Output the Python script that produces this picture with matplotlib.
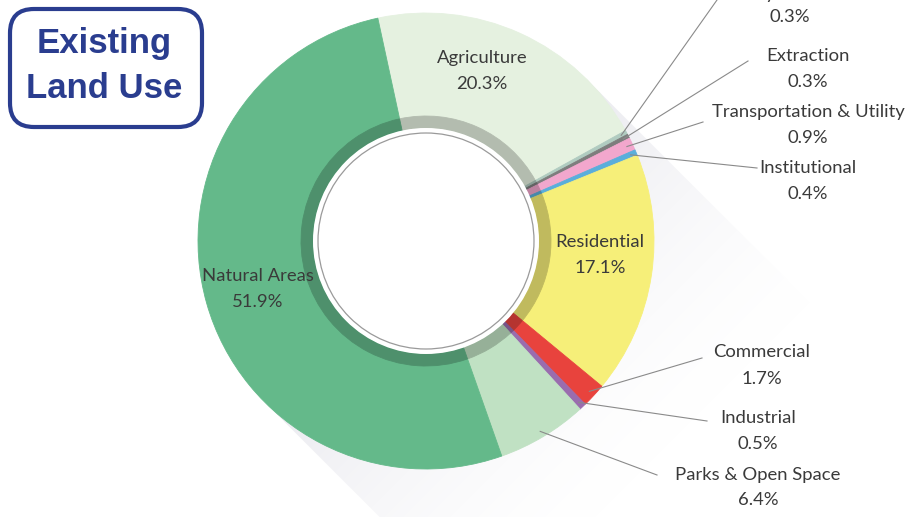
import numpy as np
import matplotlib.pyplot as plt
import matplotlib.colors as mcolors
from matplotlib.patches import Circle, FancyBboxPatch, Polygon

plt.rcParams['font.family'] = ['Lato', 'DejaVu Sans']

# -------------------------------------------------------
# Data (clockwise from the Natural Areas / Agriculture split)
# -------------------------------------------------------
categories = ["Agriculture", "Military Installation", "Extraction",
              "Transportation & Utility", "Institutional", "Residential",
              "Commercial", "Industrial", "Parks & Open Space", "Natural Areas"]
shares = [20.3, 0.3, 0.3, 0.9, 0.4, 17.1, 1.7, 0.5, 6.4, 51.9]
colors = ["#e5f1e0", "#b0cbc0", "#7d7d7d", "#f2a7cd", "#5aaedb",
          "#f6ef79", "#e8433d", "#9a6cae", "#c0e1c3", "#64b98a"]

# -------------------------------------------------------
# Layout (pixel coords, y measured from top)
# -------------------------------------------------------
W, H = 911, 517
def Y(y):
    return H - y

CX, CY = 426, Y(241)
R_OUT, R_BAND, R_IN, R_LINE = 228, 125, 113, 108
START = 102.2
TXT = "#3a3a3a"
FS = 13.3

# labels placed inside the ring: index -> (x, y_name, y_pct)
inside = {0: (482, 58, 84), 5: (600, 242, 268), 9: (258, 276, 302)}
# labels outside with leader lines: index -> (x, y_name, y_pct, line_end_x, line_end_y)
outside = {1: (790, -6, 17, 717, 0),
           2: (808, 56, 82, 748, 61),
           3: (808, 112, 138, 703, 122),
           4: (808, 168, 194, 757, 168),
           6: (762, 352, 379, 702, 358),
           7: (758, 418, 444, 707, 421),
           8: (758, 475, 500, 657, 475)}

fig = plt.figure(figsize=(W / 100, H / 100), dpi=100)
ax = fig.add_axes([0, 0, 1, 1])

# — long diagonal shadow —
d = np.array([1, -1]) / np.sqrt(2)
n = np.array([1, 1]) / np.sqrt(2)
c = np.array([CX, CY])
L = 900
poly = [c + R_OUT * n, c + R_OUT * n + L * d, c - R_OUT * n + L * d, c - R_OUT * n]
xs, ys = np.meshgrid(np.arange(W) + 0.5, np.arange(H) + 0.5)
t = (xs - CX) * d[0] + (ys - CY) * d[1]
img = np.zeros((H, W, 4))
img[..., 0] = 0.85
img[..., 1] = 0.85
img[..., 2] = 0.89
img[..., 3] = 0.55 * np.clip(1 - t / 330, 0, 1) ** 1.6
im = ax.imshow(img, extent=(0, W, 0, H), origin="lower", zorder=0,
               interpolation="bilinear")
shadow = Polygon(poly, closed=True, fc="none", ec="none", transform=ax.transData)
ax.add_patch(shadow)
im.set_clip_path(shadow)

# — main ring —
wedges, _ = ax.pie(shares, colors=colors, startangle=START, counterclock=False,
                   radius=R_OUT, center=(CX, CY),
                   wedgeprops=dict(width=R_OUT - R_IN, linewidth=0))
for w in wedges:
    w.set_edgecolor(w.get_facecolor())
    w.set_linewidth(0.6)
    w.set_zorder(2)

# — darker inner band —
dark = [tuple(np.array(mcolors.to_rgb(col)) * 0.78) for col in colors]
band, _ = ax.pie(shares, colors=dark, startangle=START, counterclock=False,
                 radius=R_BAND, center=(CX, CY),
                 wedgeprops=dict(width=R_BAND - R_IN, linewidth=0))
for w in band:
    w.set_edgecolor(w.get_facecolor())
    w.set_linewidth(0.6)
    w.set_zorder(3)

ax.add_patch(Circle((CX, CY), R_IN, fc="white", ec="none", zorder=4))
ax.add_patch(Circle((CX, CY), R_LINE, fc="none", ec="#9a9a9a", lw=0.9, zorder=5))

# — labels —
for i, (x, yn, yp) in inside.items():
    ax.text(x, Y(yn), categories[i], ha="center", va="center", fontsize=FS, color=TXT, zorder=6)
    ax.text(x, Y(yp), f"{shares[i]:.1f}%", ha="center", va="center", fontsize=FS, color=TXT, zorder=6)

for i, (x, yn, yp, lx, ly) in outside.items():
    w = wedges[i]
    mid = np.deg2rad((w.theta1 + w.theta2) / 2)
    sx = CX + 222 * np.cos(mid)
    sy = CY + 222 * np.sin(mid)
    ax.plot([sx, lx], [sy, Y(ly)], color="#8a8a8a", lw=0.8, zorder=6)
    ax.text(x, Y(yn), categories[i], ha="center", va="center", fontsize=FS, color=TXT, zorder=6)
    ax.text(x, Y(yp), f"{shares[i]:.1f}%", ha="center", va="center", fontsize=FS, color=TXT, zorder=6)

# — title box —
ax.add_patch(FancyBboxPatch((10, Y(127)), 192, 118,
                            boxstyle="round,pad=0,rounding_size=24",
                            fc="white", ec="#2a3d8f", lw=3, zorder=7))
ax.text(104, Y(44), "Existing", ha="center", va="center", fontsize=25,
        fontweight="bold", family="Liberation Sans", color="#2a3d8f", zorder=8)
ax.text(104, Y(88), "Land Use", ha="center", va="center", fontsize=25,
        fontweight="bold", family="Liberation Sans", color="#2a3d8f", zorder=8)

ax.set_xlim(0, W)
ax.set_ylim(0, H)
ax.set_aspect("equal")
ax.axis("off")

fig.savefig("out.png", dpi=100)
